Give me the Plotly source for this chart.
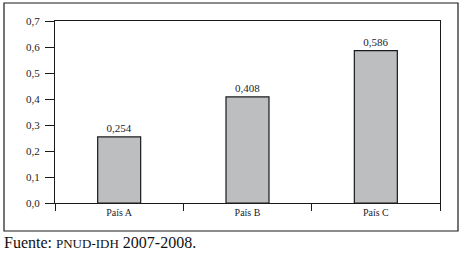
import plotly.graph_objects as go

categories = ["País A", "País B", "País C"]
values = [0.254, 0.408, 0.586]
y_ticks = [0.0, 0.1, 0.2, 0.3, 0.4, 0.5, 0.6, 0.7]

W, H = 465, 253
L, R, T, B = 55, 25, 21, 50
pw, ph = W - L - R, H - T - B

def px(x):
    return (x - L) / pw

def py(y):
    return (H - B - y) / ph

font_family = "Liberation Serif, Times New Roman, serif"
txt_color = "#1c1c2c"

fig = go.Figure(go.Bar(
    x=categories, y=values,
    width=0.335,
    marker=dict(color="#bdbec0", line=dict(color="#1a1a1a", width=1.2)),
    text=values,
    texttemplate="%{y:.3f}",
    textposition="outside",
    textfont=dict(family=font_family, size=11, color=txt_color),
    cliponaxis=False,
))

fig.update_layout(
    width=W, height=H,
    margin=dict(l=L, r=R, t=T, b=B, autoexpand=False),
    paper_bgcolor="white", plot_bgcolor="white",
    separators=",.",
    showlegend=False,
    font=dict(family=font_family, size=11, color=txt_color),
    xaxis=dict(
        type="category", tickson="boundaries",
        showline=True, linecolor="#1a1a1a", linewidth=1.2, mirror=True,
        ticks="outside", ticklen=7, tickcolor="#1a1a1a", tickwidth=1.2,
        showgrid=False, zeroline=False, automargin=False,
        tickfont=dict(family=font_family, size=10, color=txt_color),
    ),
    yaxis=dict(
        range=[0, 0.7], tickvals=y_ticks, tickformat=".1f",
        showline=True, linecolor="#1a1a1a", linewidth=1.2, mirror=True,
        ticks="outside", ticklen=9, tickcolor="#1a1a1a", tickwidth=1.2,
        ticklabelstandoff=3,
        showgrid=False, zeroline=False, automargin=False,
        tickfont=dict(family=font_family, size=11, color=txt_color),
    ),
    shapes=[dict(
        type="rect", xref="paper", yref="paper",
        x0=px(4), x1=px(458), y0=py(231), y1=py(3),
        line=dict(color="#1a1a1a", width=1.2), fillcolor="rgba(0,0,0,0)",
        layer="below",
    )],
    annotations=[dict(
        xref="paper", yref="paper", x=px(2), y=py(252.5),
        xanchor="left", yanchor="bottom", showarrow=False,
        text="Fuente: <span style='font-size:13px'>PNUD-IDH</span> 2007-2008.",
        font=dict(family=font_family, size=16, color="#111111"),
    )],
)

fig.write_html(
    "out.html",
    config={"displayModeBar": False},
    post_script="document.body.style.margin='0';document.body.style.padding='0';",
)
